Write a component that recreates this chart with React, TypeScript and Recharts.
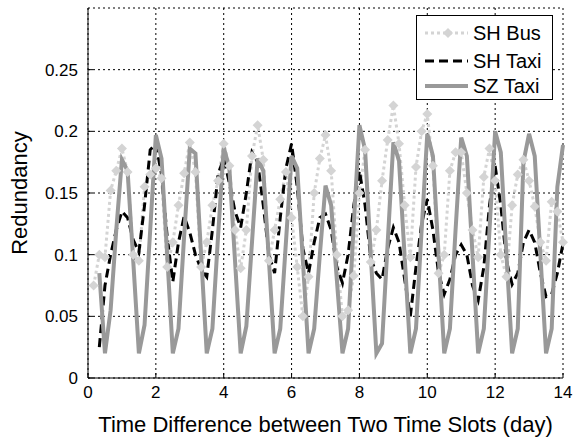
import React from 'react';
import { LineChart, Line, XAxis, YAxis, CartesianGrid, Legend } from 'recharts';

// time slots are 4 hours -> 6 slots per day
const SLOTS_PER_DAY = 6;

// SH Bus starts at slot 1, both taxi series start at slot 2
const busValues = [
  0.075, 0.1, 0.098, 0.152, 0.168, 0.186,
  0.167, 0.1, 0.095, 0.155, 0.165, 0.17,
  0.162, 0.09, 0.11, 0.14, 0.166, 0.191,
  0.167, 0.09, 0.11, 0.14, 0.16, 0.19,
  0.172, 0.12, 0.089, 0.12, 0.18, 0.205,
  0.177, 0.095, 0.12, 0.145, 0.167, 0.13,
  0.09, 0.05, 0.082, 0.15, 0.178, 0.197,
  0.168, 0.1, 0.05, 0.055, 0.083, 0.15,
  0.185, 0.094, 0.12, 0.16, 0.193, 0.221,
  0.19, 0.14, 0.098, 0.171, 0.2, 0.214,
  0.172, 0.085, 0.1, 0.168, 0.183, 0.183,
  0.15, 0.12, 0.098, 0.163, 0.186, 0.16,
  0.1, 0.082, 0.14, 0.165, 0.177, 0.16,
  0.139, 0.11, 0.095, 0.143, 0.135, 0.11,
];

const shTaxiValues = [
  0.025, 0.075, 0.1, 0.12, 0.135,
  0.13, 0.112, 0.102, 0.14, 0.185, 0.19,
  0.165, 0.115, 0.078, 0.11, 0.131, 0.118,
  0.1, 0.088, 0.082, 0.12, 0.165, 0.178,
  0.158, 0.135, 0.122, 0.15, 0.183, 0.175,
  0.14, 0.1, 0.085, 0.13, 0.17, 0.19,
  0.155, 0.105, 0.085, 0.11, 0.13, 0.133,
  0.12, 0.09, 0.077, 0.1, 0.14, 0.168,
  0.14, 0.097, 0.085, 0.08, 0.105, 0.122,
  0.11, 0.08, 0.05, 0.09, 0.125, 0.145,
  0.12, 0.085, 0.068, 0.08, 0.1, 0.108,
  0.1, 0.075, 0.063, 0.09, 0.14, 0.172,
  0.14, 0.095, 0.076, 0.085, 0.11, 0.12,
  0.11, 0.085, 0.066, 0.068, 0.085, 0.109,
];

const szTaxiValues = [
  0.085, 0.02, 0.055, 0.12, 0.177,
  0.168, 0.095, 0.02, 0.043, 0.12, 0.197,
  0.178, 0.1, 0.02, 0.04, 0.115, 0.186,
  0.182, 0.1, 0.02, 0.04, 0.115, 0.187,
  0.17, 0.095, 0.02, 0.042, 0.11, 0.178,
  0.168, 0.095, 0.02, 0.04, 0.11, 0.18,
  0.17, 0.095, 0.02, 0.04, 0.1, 0.156,
  0.14, 0.08, 0.02, 0.04, 0.125, 0.205,
  0.185, 0.1, 0.02, 0.028, 0.11, 0.191,
  0.176, 0.098, 0.02, 0.04, 0.12, 0.198,
  0.18, 0.1, 0.02, 0.04, 0.12, 0.195,
  0.18, 0.1, 0.02, 0.04, 0.12, 0.2,
  0.183, 0.1, 0.02, 0.04, 0.175, 0.198,
  0.18, 0.1, 0.02, 0.04, 0.155, 0.189,
];

const xTicks = [0, 2, 4, 6, 8, 10, 12, 14];
const yTicks = [0, 0.05, 0.1, 0.15, 0.2, 0.25];

const data = busValues.map((bus, i) => {
  const slot = i + 1;
  return {
    day: slot / SLOTS_PER_DAY,
    bus,
    shTaxi: slot >= 2 ? shTaxiValues[slot - 2] : null,
    szTaxi: slot >= 2 ? szTaxiValues[slot - 2] : null,
  };
});

const FONT = '"Liberation Sans", Arial, Helvetica, sans-serif';
const BUS_COLOR = '#d4d4d4';
const SZ_COLOR = '#999999';

const Diamond = (props: any) => {
  const { cx, cy, index } = props;
  if (cx == null || cy == null) return <g key={index} />;
  return (
    <path
      key={index}
      d={`M${cx},${cy - 5} L${cx + 5},${cy} L${cx},${cy + 5} L${cx - 5},${cy} Z`}
      fill={BUS_COLOR}
    />
  );
};

const LegendBox = () => (
  <svg width={137} height={85} style={{ display: 'block' }}>
    <rect x={0.5} y={0.5} width={136} height={84} fill="#fff" stroke="#000" />
    <line x1={9} x2={52} y1={18} y2={18} stroke={BUS_COLOR} strokeWidth={3} strokeDasharray="3 3" />
    <path d="M32,13 L37,18 L32,23 L27,18 Z" fill={BUS_COLOR} />
    <line x1={9} x2={52} y1={46} y2={46} stroke="#000" strokeWidth={3} strokeDasharray="9 5" />
    <line x1={9} x2={52} y1={71} y2={71} stroke={SZ_COLOR} strokeWidth={4} />
    <g fontFamily={FONT} fontSize={20} fill="#000">
      <text x={57} y={25}>SH Bus</text>
      <text x={57} y={53}>SH Taxi</text>
      <text x={57} y={78}>SZ Taxi</text>
    </g>
  </svg>
);

export default function App() {
  return (
    <div style={{ position: 'absolute', left: 0, top: 0, width: 578, height: 440, background: '#fff' }}>
      <LineChart width={578} height={440} data={data} margin={{ top: 8, right: 15, left: 0, bottom: 0 }}>
        <CartesianGrid stroke="#000" strokeDasharray="2 3" strokeWidth={1} />
        <XAxis
          dataKey="day"
          type="number"
          domain={[0, 14]}
          ticks={xTicks}
          height={62}
          stroke="#000"
          tickSize={-5}
          tickMargin={13}
          tick={{ fill: '#000', fontSize: 17, fontFamily: FONT }}
          label={{ value: 'Time Difference between Two Time Slots (day)', position: 'insideBottom', offset: 8, fill: '#000', fontSize: 22, fontFamily: FONT }}
        />
        <XAxis xAxisId="top" orientation="top" dataKey="day" type="number" domain={[0, 14]} ticks={xTicks} height={0} stroke="#000" tick={false} tickSize={-5} />
        <YAxis
          type="number"
          domain={[0, 0.3]}
          ticks={yTicks}
          width={88}
          stroke="#000"
          tickSize={-5}
          tickMargin={15}
          tick={{ fill: '#000', fontSize: 17, fontFamily: FONT }}
          label={{ value: 'Redundancy', angle: -90, position: 'insideLeft', offset: 19, fill: '#000', fontSize: 22, fontFamily: FONT, style: { textAnchor: 'middle' } }}
        />
        <YAxis yAxisId="right" orientation="right" type="number" domain={[0, 0.3]} ticks={yTicks} width={0} stroke="#000" tick={false} tickSize={-5} />
        <Line dataKey="bus" stroke={BUS_COLOR} strokeWidth={3} strokeDasharray="3 3" dot={Diamond} activeDot={false} isAnimationActive={false} />
        <Line dataKey="shTaxi" stroke="#000" strokeWidth={3} strokeDasharray="9 5" dot={false} activeDot={false} isAnimationActive={false} />
        <Line dataKey="szTaxi" stroke={SZ_COLOR} strokeWidth={4} dot={false} activeDot={false} isAnimationActive={false} />
        <Legend
          layout="horizontal"
          verticalAlign="middle"
          align="center"
          content={() => <LegendBox />}
          wrapperStyle={{ left: 416, top: 15, width: 137, height: 85 }}
        />
      </LineChart>
    </div>
  );
}
